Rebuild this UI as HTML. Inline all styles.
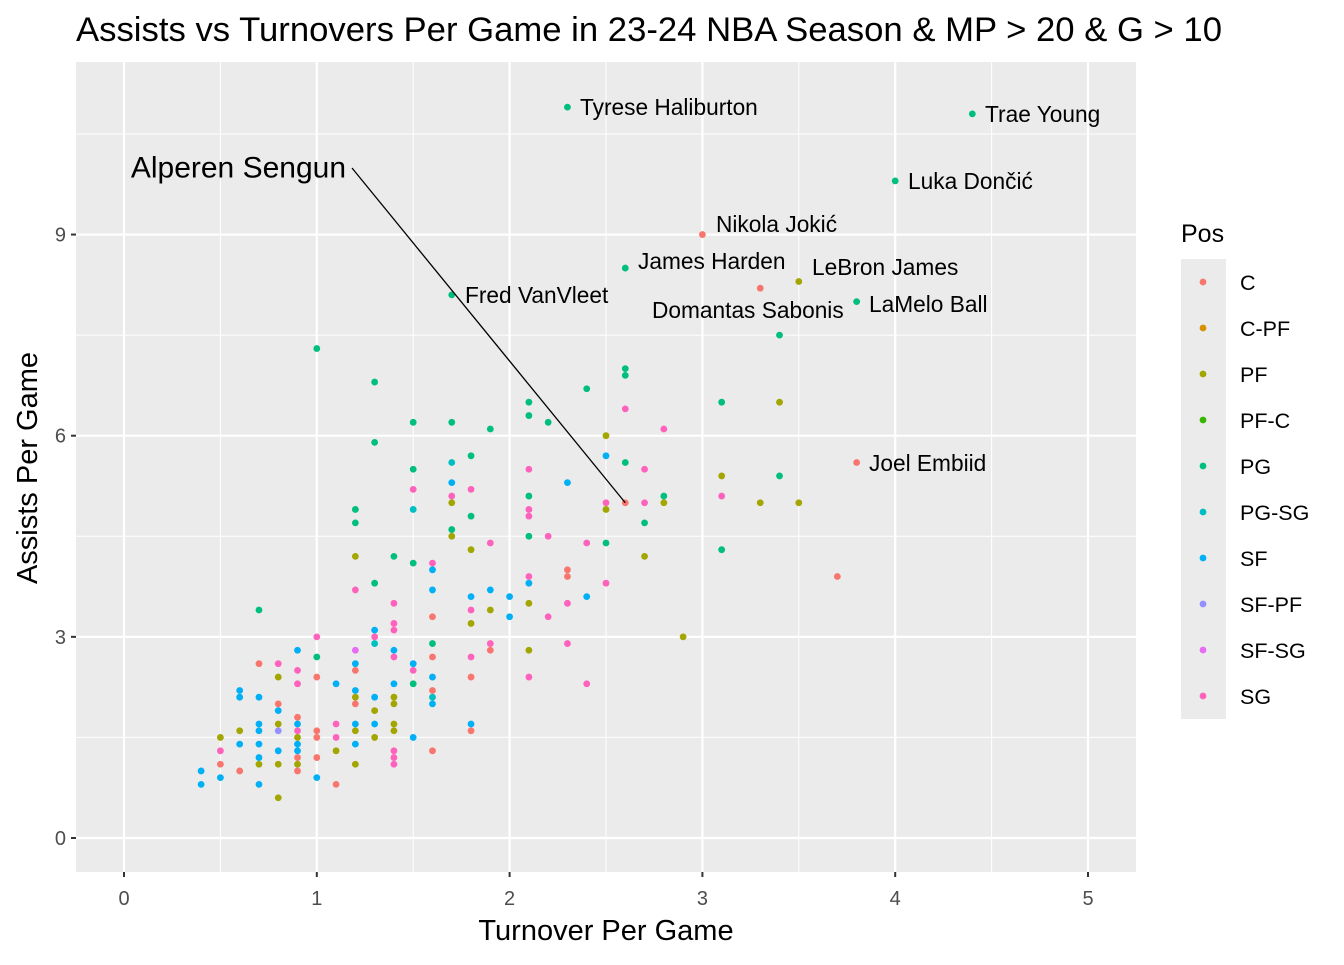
<!DOCTYPE html>
<html><head><meta charset="utf-8"><style>
body{margin:0;background:#fff;}
svg text{font-family:"Liberation Sans",Arial,sans-serif;}
</style></head><body>
<svg id="chart" width="1344" height="960" xmlns="http://www.w3.org/2000/svg">
<rect width="1344" height="960" fill="#fff"/>
<text x="76" y="41" font-size="34" textLength="1146" lengthAdjust="spacingAndGlyphs" fill="#000">Assists vs Turnovers Per Game in 23-24 NBA Season &amp; MP &gt; 20 &amp; G &gt; 10</text>
<rect x="76" y="62" width="1060" height="810" fill="#ebebeb"/>
<g id="grid"></g>
<g id="pts"></g>
<g id="labels"></g>
<text x="606" y="940" font-size="29" text-anchor="middle">Turnover Per Game</text>
<text transform="translate(37,468) rotate(-90)" font-size="29" text-anchor="middle">Assists Per Game</text>
<text x="1181" y="242" font-size="25">Pos</text>
<rect x="1181" y="259" width="45" height="460" fill="#ebebeb"/>
<g id="legend"></g>
</svg>
<script>
const xTicks=[0,1,2,3,4,5];
const yTicks=[0,3,6,9];
const positions=["C","C-PF","PF","PF-C","PG","PG-SG","SF","SF-PF","SF-SG","SG"];
const colors=["#F8766D","#D89000","#A3A500","#39B600","#00BF7D","#00BFC4","#00B0F6","#9590FF","#E76BF3","#FF62BC"];
const tov=[2.3,4.4,4.0,3.0,2.6,3.5,3.3,3.8,1.7,3.4,1.0,2.6,1.3,2.6,2.6,2.4,2.1,3.1,3.4,2.6,2.1,1.5,1.7,2.2,1.9,2.8,2.5,1.3,1.8,2.5,1.7,2.6,3.8,1.5,2.1,2.7,3.1,3.4,1.7,2.3,1.5,1.8,1.7,2.1,2.8,3.1,1.7,2.5,2.7,2.8,3.3,3.5,1.2,1.5,2.1,2.5,1.8,2.1,1.2,2.7,1.7,1.7,2.1,2.2,1.9,2.4,2.5,1.8,3.1,1.2,1.4,2.7,1.5,1.6,1.6,2.3,2.3,2.1,3.7,1.3,2.1,2.5,1.2,1.6,1.9,1.8,2.0,2.4,1.4,2.1,2.3,0.7,1.8,1.9,1.6,2.0,2.2,1.4,1.8,1.3,1.4,1.0,1.3,2.9,1.3,1.6,1.9,2.3,0.9,1.2,1.4,1.9,2.1,1.0,1.4,1.6,1.8,0.7,0.8,1.2,1.5,0.9,1.2,1.5,0.8,1.0,1.6,1.8,2.1,0.9,1.1,1.4,1.5,2.4,0.6,1.2,1.6,0.6,0.7,1.2,1.3,1.4,1.6,0.8,1.2,1.4,1.6,0.8,1.3,0.9,0.7,0.8,0.9,1.1,1.2,1.3,1.4,1.8,0.6,0.7,0.8,0.9,1.0,1.2,1.4,1.8,0.5,0.9,1.0,1.1,1.3,1.5,0.6,0.7,0.9,1.2,0.5,0.8,0.9,1.4,1.6,0.7,0.9,1.0,1.1,1.4,0.5,0.7,0.8,0.9,1.2,1.4,0.4,0.6,0.9,0.5,1.0,0.4,0.7,1.1,0.8];
const ast=[10.9,10.8,9.8,9.0,8.5,8.3,8.2,8.0,8.1,7.5,7.3,5.0,6.8,7.0,6.9,6.7,6.5,6.5,6.5,6.4,6.3,6.2,6.2,6.2,6.1,6.1,6.0,5.9,5.7,5.7,5.6,5.6,5.6,5.5,5.5,5.5,5.4,5.4,5.3,5.3,5.2,5.2,5.1,5.1,5.1,5.1,5.0,5.0,5.0,5.0,5.0,5.0,4.9,4.9,4.9,4.9,4.8,4.8,4.7,4.7,4.6,4.5,4.5,4.5,4.4,4.4,4.4,4.3,4.3,4.2,4.2,4.2,4.1,4.1,4.0,4.0,3.9,3.9,3.9,3.8,3.8,3.8,3.7,3.7,3.7,3.6,3.6,3.6,3.5,3.5,3.5,3.4,3.4,3.4,3.3,3.3,3.3,3.2,3.2,3.1,3.1,3.0,3.0,3.0,2.9,2.9,2.9,2.9,2.8,2.8,2.8,2.8,2.8,2.7,2.7,2.7,2.7,2.6,2.6,2.6,2.6,2.5,2.5,2.5,2.4,2.4,2.4,2.4,2.4,2.3,2.3,2.3,2.3,2.3,2.2,2.2,2.2,2.1,2.1,2.1,2.1,2.1,2.1,2.0,2.0,2.0,2.0,1.9,1.9,1.8,1.7,1.7,1.7,1.7,1.7,1.7,1.7,1.7,1.6,1.6,1.6,1.6,1.6,1.6,1.6,1.6,1.5,1.5,1.5,1.5,1.5,1.5,1.4,1.4,1.4,1.4,1.3,1.3,1.3,1.3,1.3,1.2,1.2,1.2,1.3,1.2,1.1,1.1,1.1,1.1,1.1,1.1,1.0,1.0,1.0,0.9,0.9,0.8,0.8,0.8,0.6];
const pos=["PG","PG","PG","C","PG","PF","C","PG","PG","PG","PG","C","PG","PG","PG","PG","PG","PG","PF","SG","PG","PG","PG","PG","PG","SG","PF","PG","PG","SF","PG-SG","PG","C","PG","SG","SG","PF","PG","SF","SF","SG","SG","SG","PG","PG","SG","PF","SG","SG","PF","PF","PF","PG","PG-SG","SG","PF","PG","SG","PG","PG","PG","PF","PG","SG","SG","SG","PG","PF","PG","PF","PG","PF","PG","SG","SF","C","C","SG","C","PG","SF","SG","SG","SF","SF","SF","SF","SF","SG","PF","SG","PG","SG","PF","C","SF","SG","SG","PF","SF","SG","SG","SG","PF","PG-SG","PG","SG","SG","SF","SF-SG","SF","C","PF","PG","SG","C","SG","C","SG","SF","SF","SG","C","SG","PF","C","SF","C","SG","SG","SF","SF","PG","SG","SF","SF","C","SF","SF","PF","SF","PF","PG-SG","C","C","PF","SF","SF","PF","C","SF","PF","SF","SG","SF","SF","PF","SF","PF","SF","SF-PF","SG","C","PF","PF","C","PF","PF","C","SG","PF","SF","SF","SF","SF","SF","SG","SF","SF","SG","C","SF","C","C","PF","SG","C","PF","PF","PF","PF","SG","SF","C","C","SF","SF","SF","SF","C","PF","PF","C","C"];
const X=v=>124+v*192.8, Y=v=>838-v*67.05;
const NS="http://www.w3.org/2000/svg";
function mk(tag,attrs,parent){const e=document.createElementNS(NS,tag);for(const k in attrs)e.setAttribute(k,attrs[k]);parent.appendChild(e);return e;}
const grid=document.getElementById('grid'), svg=document.getElementById('chart');
[1.5,4.5,7.5,10.5].forEach(v=>{const l=mk('line',{x1:76,x2:1136,y1:Y(v),y2:Y(v),stroke:'#fff','stroke-width':1},grid);

});
[0.5,1.5,2.5,3.5,4.5].forEach(v=>{const l=mk('line',{x1:X(v),x2:X(v),y1:62,y2:872,stroke:'#fff','stroke-width':1},grid);

});
yTicks.forEach(v=>{const l=mk('line',{x1:76,x2:1136,y1:Y(v),y2:Y(v),stroke:'#fff','stroke-width':2.2},grid);


const t=mk('line',{x1:71,x2:76,y1:Y(v),y2:Y(v),stroke:'#333','stroke-width':2},svg);


const tx=mk('text',{x:66,y:Y(v)+7,'font-size':20,fill:'#4d4d4d','text-anchor':'end'},svg);tx.textContent=v;

});
xTicks.forEach(v=>{const l=mk('line',{x1:X(v),x2:X(v),y1:62,y2:872,stroke:'#fff','stroke-width':2.2},grid);


const t=mk('line',{x1:X(v),x2:X(v),y1:872,y2:877,stroke:'#333','stroke-width':2},svg);


const tx=mk('text',{x:X(v),y:905,'font-size':20,fill:'#4d4d4d','text-anchor':'middle'},svg);tx.textContent=v;

});
const pg=document.getElementById('pts');
tov.forEach((t,i)=>{const c=mk('circle',{cx:X(t),cy:Y(ast[i]),r:3.4,fill:colors[positions.indexOf(pos[i])]},pg);

});
const lg=document.getElementById('legend');
positions.forEach((p,i)=>{const y=282+i*46;
const c=mk('circle',{cx:1203,cy:y,r:3.4,fill:colors[i]},lg);


const t=mk('text',{x:1240,y:y+8,'font-size':21.5},lg);t.textContent=p;

});
const lb=document.getElementById('labels');
const ln=mk('line',{x1:352,y1:168,x2:X(2.6),y2:Y(5.0),stroke:'#000','stroke-width':1.3},lb);


const labs=[["Alperen Sengun",346,168,"end",30],["Tyrese Haliburton",580,107,"start",22.7],["Trae Young",985,114,"start",22.7],["Luka Dončić",908,181,"start",22.7],["Nikola Jokić",716,224,"start",22.7],["James Harden",638,261,"start",22.7],["LeBron James",812,267,"start",22.7],["Domantas Sabonis",652,310,"start",22.7],["LaMelo Ball",869,304,"start",22.7],["Fred VanVleet",465,295,"start",22.7],["Joel Embiid",869,463,"start",22.7]];
labs.forEach(a=>{const t=mk('text',{x:a[1],y:a[2],'font-size':a[4],'text-anchor':a[3],'dominant-baseline':'central'},lb);t.textContent=a[0];

});
</script>
</body></html>
